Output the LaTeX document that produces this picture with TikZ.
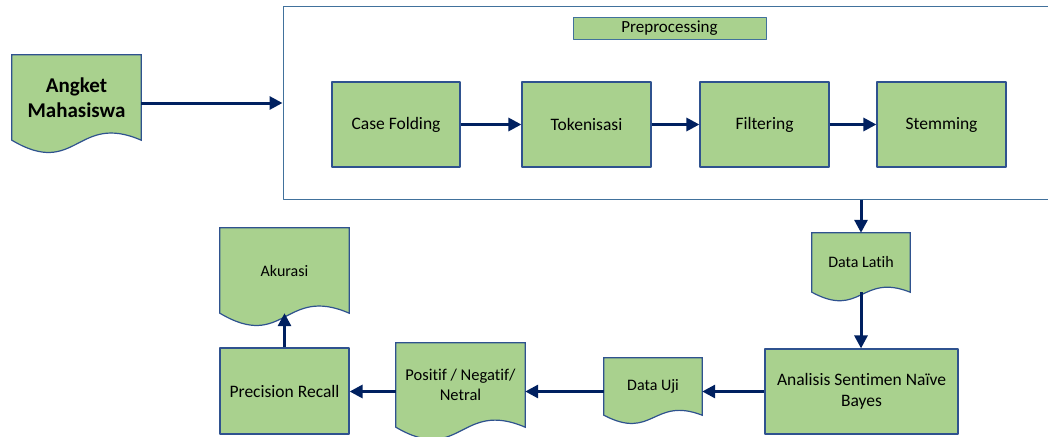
\documentclass[tikz,border=0pt]{standalone}
\usepackage{fontspec}
\setmainfont{Carlito}[Ligatures=NoCommon]
\usetikzlibrary{arrows.meta,calc,backgrounds}
\definecolor{boxgreen}{HTML}{A9D18E}
\definecolor{boxline}{HTML}{2F528F}
\definecolor{frameline}{HTML}{41719C}
\definecolor{arrowblue}{HTML}{002060}
\tikzset{
  box/.style={draw=boxline,fill=boxgreen,line width=1.2pt,inner sep=0pt,align=center,font=\fontsize{17.5}{21}\selectfont},
  docbox/.style={inner sep=0pt,align=center,font=\fontsize{16}{20}\selectfont},
  flow/.style={draw=arrowblue,line width=3pt,-{Triangle[length=13pt,width=13pt]}},
}
% document shape with wavy bottom, drawn behind the node text
\newcommand{\docwave}[1]{%
  \begin{pgfonlayer}{background}
  \draw[draw=boxline,fill=boxgreen,line width=1.2pt] let \p1=($(#1.north)-(#1.south)$) in
  (#1.north west) -- (#1.north east) -- (#1.south east)
  .. controls ($(#1.south)+(0pt,0.33*\y1)$) and ($(#1.south)+(0pt,-0.45*\y1)$) .. (#1.south west) -- cycle;
  \end{pgfonlayer}}
\begin{document}
\begin{tikzpicture}[x=1pt,y=-1pt,line join=round]
            \useasboundingbox (0,0) rectangle (1048,436);
            % preprocessing frame
            \node[draw=frameline,line width=1pt,inner sep=0pt,minimum width=777pt,minimum height=192pt] (prep) at (671.5,103) {};
            \node[box,line width=0.9pt,draw=frameline,minimum width=193pt,minimum height=22pt,font=\fontsize{17}{20}\selectfont] (preplabel) at (669.5,28) {Preprocessing};
            \node[box,minimum width=128pt,minimum height=85pt] (casefold) at (396,124.5) {Case Folding};
            \node[box,minimum width=129pt,minimum height=85pt] (token) at (586.5,124.5) {Tokenisasi};
            \node[box,minimum width=129pt,minimum height=85pt] (filter) at (764.5,124.5) {Filtering};
            \node[box,minimum width=129pt,minimum height=85pt] (stem) at (941.5,124.5) {Stemming};
            % documents
            \node[docbox,minimum width=129pt,minimum height=85pt,font=\fontsize{21}{25}\selectfont\bfseries] (angket) at (76.5,97.5) {Angket\\Mahasiswa};
            \node[docbox,minimum width=98pt,minimum height=59pt] (dlatih) at (861,262.5) {Data Latih};
            \node[docbox,minimum width=98pt,minimum height=57pt] (duji) at (653,386.5) {Data Uji};
            \node[docbox,minimum width=129pt,minimum height=84pt,font=\fontsize{16.5}{20}\selectfont] (hasil) at (460.5,385) {Positif / Negatif/\\Netral};
            \node[docbox,minimum width=129pt,minimum height=85pt] (akurasi) at (284.5,270.5) {Akurasi};
            \docwave{angket}
            \docwave{dlatih}
            \docwave{duji}
            \docwave{hasil}
            \docwave{akurasi}
            % process boxes below
            \node[box,minimum width=193pt,minimum height=85pt] (nbayes) at (861.5,391.5) {Analisis Sentimen Naïve\\Bayes};
            \node[box,minimum width=129pt,minimum height=86pt] (precrec) at (284.5,391) {Precision Recall};
            % connectors
            \draw[flow] (angket.east |- prep.west) -- (prep.west);
            \draw[flow] (casefold) -- (token);
            \draw[flow] (token) -- (filter);
            \draw[flow] (filter) -- (stem);
            \draw[flow] (dlatih.north |- prep.south) -- (dlatih.north);
            \draw[flow] (dlatih.south) -- (nbayes.north -| dlatih.south);
            \draw[flow] (nbayes.west) -- (duji.east |- nbayes.west);
            \draw[flow] (duji.west |- nbayes.west) -- (hasil.east |- nbayes.west);
            \draw[flow] (hasil.west |- nbayes.west) -- (precrec.east |- nbayes.west);
            \draw[flow] (precrec.north) -- (akurasi.south);
        \end{tikzpicture}
\end{document}
